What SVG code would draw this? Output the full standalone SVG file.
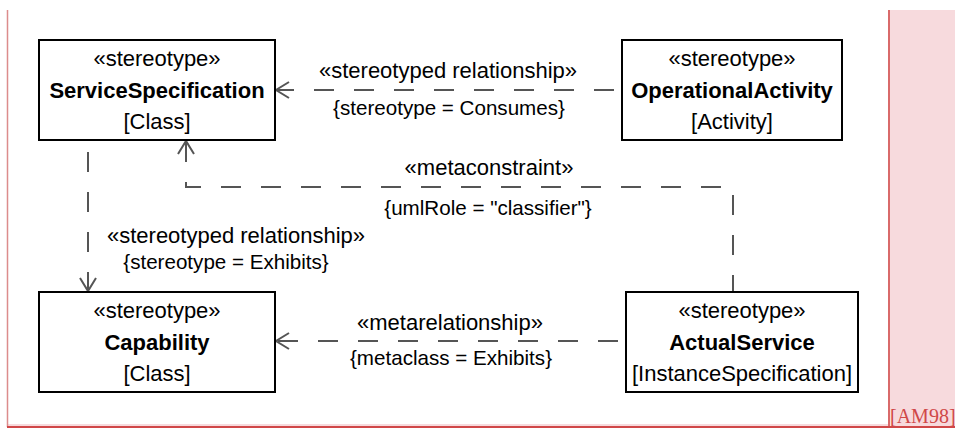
<svg xmlns="http://www.w3.org/2000/svg" width="955" height="428" viewBox="0 0 955 428">
<style>
.box{fill:#fff;stroke:#000;stroke-width:2}
.t{font-family:"Liberation Sans",Arial,sans-serif;font-size:22px;fill:#000;text-anchor:middle}
.b{font-weight:bold}
.c{font-family:"Liberation Sans",Arial,sans-serif;font-size:20.6px;fill:#000;text-anchor:middle}
.dep{fill:none;stroke:#555;stroke-width:2;stroke-dasharray:20 20}
</style>
<defs>
<marker id="open" markerUnits="userSpaceOnUse" markerWidth="20" markerHeight="20" refX="0" refY="0" orient="auto" overflow="visible">
<path d="M-13,-8 L0,0 L-13,8" fill="none" stroke="#555" stroke-width="2" stroke-dasharray="none"/>
</marker>
</defs>
<rect x="0" y="0" width="955" height="428" fill="#fff"/>
<g id="frame">
<rect x="888" y="10" width="67" height="417" fill="#f7dadd"/>
<rect x="8" y="424" width="947" height="3" fill="#f7dadd"/>
<line x1="889" y1="10" x2="889" y2="427" stroke="#d96a6a" stroke-width="2"/>
<line x1="7.5" y1="10" x2="7.5" y2="427" stroke="#dc8c8c" stroke-width="1.5"/>
<line x1="7" y1="427" x2="955" y2="427" stroke="#d04848" stroke-width="2"/>
<text x="890" y="423" font-family="'Liberation Serif',serif" font-size="20" fill="#d04848">[AM98]</text>
</g>
<g id="connectors">
<path class="dep" d="M622,90 L276,90" stroke-dashoffset="32" marker-end="url(#open)"/>
<path class="dep" d="M733,292 L733,187 L186,187 L186,141" stroke-dashoffset="3" marker-end="url(#open)"/>
<path class="dep" d="M88,140 L88,291" stroke-dashoffset="28" marker-end="url(#open)"/>
<path class="dep" d="M626,341 L276,341" stroke-dashoffset="32" marker-end="url(#open)"/>
<text class="t" x="448" y="78">«stereotyped relationship»</text>
<text class="c" x="449" y="115">{stereotype = Consumes}</text>
<text class="t" x="489" y="175">«metaconstraint»</text>
<text class="c" x="488" y="215">{umlRole = "classifier"}</text>
<text class="t" x="236" y="243">«stereotyped relationship»</text>
<text class="c" x="226" y="269">{stereotype = Exhibits}</text>
<text class="t" x="450" y="330">«metarelationship»</text>
<text class="c" x="451" y="365">{metaclass = Exhibits}</text>
</g>
<g id="ServiceSpecification">
<rect class="box" x="39" y="40" width="236" height="100"/>
<text class="t" x="157" y="66">«stereotype»</text>
<text class="t b" x="157" y="98">ServiceSpecification</text>
<text class="t" x="157" y="129">[Class]</text>
</g>
<g id="OperationalActivity">
<rect class="box" x="622" y="40" width="220" height="100"/>
<text class="t" x="732" y="66">«stereotype»</text>
<text class="t b" x="732" y="98">OperationalActivity</text>
<text class="t" x="732" y="129">[Activity]</text>
</g>
<g id="Capability">
<rect class="box" x="39" y="292" width="236" height="100"/>
<text class="t" x="157" y="318">«stereotype»</text>
<text class="t b" x="157" y="350">Capability</text>
<text class="t" x="157" y="381">[Class]</text>
</g>
<g id="ActualService">
<rect class="box" x="626" y="292" width="232" height="100"/>
<text class="t" x="742" y="318">«stereotype»</text>
<text class="t b" x="742" y="350">ActualService</text>
<text class="t" x="742" y="381">[InstanceSpecification]</text>
</g>
</svg>
